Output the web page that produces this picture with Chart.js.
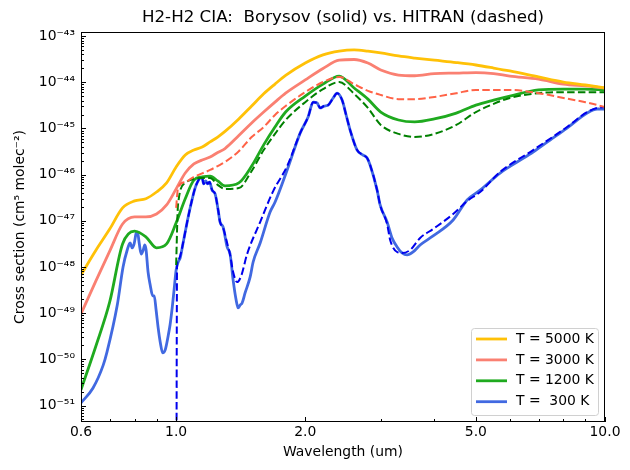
<!DOCTYPE html>
<html>
<head>
<meta charset="utf-8">
<script src="https://cdn.jsdelivr.net/npm/chart.js@4.4.0/dist/chart.umd.min.js"></script>
<style>
  body { margin: 0; background: #fff; }
  #wrap { width: 630px; height: 470px; }
</style>
</head>
<body>
<div id="wrap"><canvas id="myChart"></canvas></div>
<script>
//Elemento del DOM donde se renderiza la gráfica
const ctx = document.getElementById('myChart');

//Longitudes de onda (um) para las curvas de Borysov
const wlGrid = [0.6, 0.65, 0.7, 0.75, 0.8, 0.85, 0.9, 0.95, 1.0, 1.05, 1.1, 1.15, 1.2, 1.25, 1.3, 1.4, 1.5, 1.6, 1.7, 1.8,
  2.0, 2.2, 2.4, 2.6, 2.8, 3.0, 3.3, 3.6, 4.0, 4.5, 5.0, 5.5, 6.0, 7.0, 8.0, 9.0, 10.0];

const borysov5000 = [6.7e-49, 2.3e-48, 6.6e-48, 1.9e-47, 2.7e-47, 3.0e-47, 4.2e-47, 6.6e-47, 1.46e-46, 2.65e-46, 3.4e-46,
  3.95e-46, 5.1e-46, 6.5e-46, 8.6e-46, 1.6e-45, 3.05e-45, 5.6e-45, 9.1e-45, 1.4e-44, 2.6e-44, 3.9e-44, 4.7e-44, 5.0e-44,
  4.7e-44, 4.3e-44, 3.7e-44, 3.34e-44, 3.0e-44, 2.67e-44, 2.36e-44, 2.03e-44, 1.75e-44, 1.3e-44, 1.01e-44, 8.7e-45, 7.5e-45];

const borysov3000 = [9.6e-50, 5.0e-49, 2.2e-48, 8.5e-48, 1.21e-47, 1.21e-47, 1.4e-47, 2.2e-47, 4.9e-47, 1.08e-46, 1.7e-46,
  2.07e-46, 2.4e-46, 3.0e-46, 3.67e-46, 7.0e-46, 1.31e-45, 2.26e-45, 3.7e-45, 5.8e-45, 1.12e-44, 1.98e-44, 3.0e-44, 3.1e-44,
  2.6e-44, 1.84e-44, 1.43e-44, 1.38e-44, 1.54e-44, 1.58e-44, 1.62e-44, 1.54e-44, 1.36e-44, 1.17e-44, 9.1e-45, 8.3e-45, 7.5e-45];

const borysov1200 = [2.2e-51, 1.95e-50, 1.75e-49, 3.15e-48, 6.0e-48, 4.5e-48, 2.6e-48, 3.15e-48, 9.0e-48, 3.0e-47, 7.6e-47,
  8.9e-47, 9.3e-47, 7.3e-47, 5.7e-47, 6.6e-47, 1.53e-46, 4.4e-46, 1.07e-45, 2.26e-45, 5.0e-45, 9.1e-45, 1.36e-44, 7.5e-45,
  4.3e-45, 2.26e-45, 1.52e-45, 1.38e-45, 1.6e-45, 2.15e-45, 3.2e-45, 4.1e-45, 5.0e-45, 6.8e-45, 7.1e-45, 7.1e-45, 6.8e-45];

//Curva de 300 K (con más detalle)
const wlBlue = [0.6, 0.64, 0.676, 0.69, 0.729, 0.752, 0.769, 0.781, 0.79, 0.798, 0.807, 0.813, 0.82, 0.829, 0.838, 0.845,
  0.851, 0.86, 0.87, 0.882, 0.889, 0.898, 0.908, 0.918, 0.93, 0.943, 0.958, 0.968, 0.979, 0.989, 1.0, 1.011, 1.022, 1.038,
  1.061, 1.078, 1.107, 1.125, 1.137, 1.15, 1.159, 1.172, 1.184, 1.197, 1.213, 1.233, 1.253, 1.266, 1.287, 1.315, 1.336,
  1.358, 1.38, 1.395, 1.41, 1.425, 1.448, 1.488, 1.512, 1.57, 1.656, 1.701, 1.815, 1.946, 2.031, 2.087, 2.132, 2.166,
  2.214, 2.262, 2.323, 2.373, 2.438, 2.491, 2.545, 2.642, 2.729, 2.788, 2.833, 2.942, 2.99, 3.104, 3.188, 3.275, 3.364,
  3.456, 3.569, 3.706, 3.974, 4.425, 4.77, 5.115, 5.693, 6.238, 6.799, 7.447, 8.156, 9.085, 9.585, 10.0];

const borysov300 = [1.14e-51, 2.4e-51, 7.5e-51, 1.45e-50, 1.5e-49, 1.0e-48, 2.33e-48, 3.3e-48, 2.58e-48, 3.15e-48, 5.4e-48,
  5.7e-48, 3.3e-48, 1.91e-48, 2.33e-48, 2.99e-48, 2.33e-48, 7.8e-49, 4.07e-49, 2.36e-49, 2.36e-49, 1.17e-49, 4.8e-50,
  2.38e-50, 1.38e-50, 1.6e-50, 3.2e-50, 5.6e-50, 1.3e-49, 3.2e-49, 8.6e-49, 1.28e-48, 1.57e-48, 3.3e-48, 9.4e-48, 1.89e-47,
  5.1e-47, 7.3e-47, 8.4e-47, 8.4e-47, 6.3e-47, 7.3e-47, 6.3e-47, 6.9e-47, 4.6e-47, 3.8e-47, 1.71e-47, 9.4e-48, 7.3e-48,
  2.71e-48, 1.91e-48, 5.2e-49, 1.93e-49, 1.3e-49, 1.5e-49, 1.66e-49, 2.74e-49, 6.1e-49, 1.28e-48, 3.3e-48, 1.55e-47,
  2.55e-47, 1.26e-46, 7.9e-46, 1.77e-45, 3.7e-45, 3.55e-45, 2.77e-45, 3.05e-45, 3.2e-45, 4.55e-45, 5.8e-45, 4.1e-45,
  1.95e-45, 9.2e-46, 3.4e-46, 2.65e-46, 2.29e-46, 1.61e-46, 4.6e-47, 2.2e-47, 9.4e-48, 4.25e-48, 2.71e-48, 2.01e-48,
  1.82e-48, 2.11e-48, 2.99e-48, 4.7e-48, 1.04e-47, 2.82e-47, 4.6e-47, 1.08e-46, 1.87e-46, 3.08e-46, 5.6e-46, 1.02e-45,
  2.15e-45, 2.63e-45, 2.63e-45];

//HITRAN (discontinuas), empiezan en 1.0 um
const wlHitran = [1.0, 1.01, 1.05, 1.1, 1.15, 1.2, 1.25, 1.3, 1.4, 1.5, 1.6, 1.7, 1.8, 2.0, 2.2, 2.4, 2.6, 2.8, 3.0, 3.3,
  3.6, 4.0, 4.5, 5.0, 5.5, 6.0, 7.0, 8.0, 9.0, 10.0];

const hitran3000 = [1.9e-47, 5.1e-47, 6.9e-47, 8.9e-47, 1.06e-46, 1.26e-46, 1.53e-46, 1.87e-46, 3.2e-46, 6.5e-46, 1.07e-45,
  1.95e-45, 3.05e-45, 6.1e-45, 1.01e-44, 1.3e-44, 9.1e-45, 6.5e-45, 5.3e-45, 4.3e-45, 4.3e-45, 4.8e-45, 5.8e-45, 6.8e-45,
  6.8e-45, 6.8e-45, 5.8e-45, 4.55e-45, 3.7e-45, 2.9e-45];

const hitran1200 = [1.1e-48, 2.2e-47, 6.6e-47, 8.0e-47, 8.4e-47, 8.4e-47, 6.0e-47, 4.9e-47, 5.1e-47, 1.2e-46, 3.4e-46,
  7.6e-46, 1.52e-45, 3.7e-45, 7.1e-45, 1.01e-44, 5.6e-45, 2.77e-45, 1.19e-45, 7.6e-46, 6.5e-46, 7.6e-46, 1.19e-45, 2.26e-45,
  3.4e-45, 4.55e-45, 5.8e-45, 6.1e-45, 6.1e-45, 6.1e-45];

const wlHitran300 = [1.0, 1.005, 1.011, 1.022, 1.038, 1.061, 1.078, 1.107, 1.125, 1.137, 1.15, 1.159, 1.172, 1.184, 1.197,
  1.213, 1.233, 1.253, 1.266, 1.287, 1.315, 1.336, 1.358, 1.387, 1.418, 1.464, 1.57, 1.684, 1.815, 1.946, 2.031, 2.087,
  2.132, 2.166, 2.214, 2.262, 2.323, 2.373, 2.438, 2.491, 2.545, 2.642, 2.729, 2.788, 2.833, 2.942, 2.99, 3.104, 3.155,
  3.275, 3.364, 3.513, 3.706, 3.974, 4.425, 4.77, 5.115, 5.693, 6.799, 8.156, 9.085, 9.585, 10.0];

const hitran300 = [1e-56, 1.1e-48, 1.42e-48, 1.73e-48, 3.3e-48, 9.4e-48, 1.89e-47, 5.1e-47, 7.3e-47, 8.4e-47, 8.4e-47,
  6.3e-47, 7.3e-47, 6.3e-47, 6.9e-47, 4.6e-47, 3.8e-47, 1.71e-47, 9.4e-48, 7.0e-48, 3.3e-48, 1.82e-48, 7.8e-49, 4.7e-49,
  6.4e-49, 1.91e-48, 9.4e-48, 4.4e-47, 1.53e-46, 7.9e-46, 1.77e-45, 3.7e-45, 3.55e-45, 2.77e-45, 3.05e-45, 3.2e-45,
  4.55e-45, 5.8e-45, 4.1e-45, 1.95e-45, 9.2e-46, 3.4e-46, 2.65e-46, 2.29e-46, 1.61e-46, 4.6e-47, 2.2e-47, 8.5e-48,
  3.84e-48, 2.11e-48, 2.01e-48, 2.33e-48, 4.25e-48, 6.65e-48, 1.4e-47, 2.68e-47, 4.2e-47, 1.14e-46, 3.4e-46, 1.07e-45,
  2.26e-45, 2.77e-45, 2.9e-45];

//Etiquetas y ticks
const seriesLabels = ['T = 5000 K', 'T = 3000 K', 'T = 1200 K', 'T =  300 K'];
const xTicks = [0.6, 1.0, 2.0, 5.0, 10.0];
const xTickLabels = ['0.6', '1.0', '2.0', '5.0', '10.0'];
const xMinor = [0.7, 0.8, 0.9, 3, 4, 6, 7, 8, 9];
const yTicks = [1e-51, 1e-50, 1e-49, 1e-48, 1e-47, 1e-46, 1e-45, 1e-44, 1e-43];
const yTickLabels = ['10⁻⁵¹', '10⁻⁵⁰', '10⁻⁴⁹', '10⁻⁴⁸', '10⁻⁴⁷', '10⁻⁴⁶', '10⁻⁴⁵', '10⁻⁴⁴', '10⁻⁴³'];

const solidColors = ['#ffc107', '#fa8072', '#1faa1f', '#4169e1'];
const dashColors = ['#ff6347', '#008000', '#0000ee'];

const FONT = "'DejaVu Sans', sans-serif";
Chart.defaults.font.family = FONT;
Chart.defaults.color = '#000';

const pts = (xs, ys) => xs.map((x, i) => ({x: x, y: ys[i]}));

const solid = (label, xs, ys, color) => ({
  label: label, data: pts(xs, ys), borderColor: color, backgroundColor: color,
  borderWidth: 2.8, pointRadius: 0, fill: false, order: 1,
  cubicInterpolationMode: 'monotone'
});
const dashed = (xs, ys, color) => ({
  label: '', data: pts(xs, ys), borderColor: color, backgroundColor: color,
  borderWidth: 2, borderDash: [7.5, 3.3], pointRadius: 0, fill: false, order: 0,
  cubicInterpolationMode: 'monotone'
});

//Marco y ticks hacia dentro (estilo matplotlib)
const frameTicks = {
  id: 'frameTicks',
  afterDatasetsDraw(chart) {
    const {ctx, chartArea: a, scales: {x, y}} = chart;
    const line = (x1, y1, x2, y2) => { ctx.beginPath(); ctx.moveTo(x1, y1); ctx.lineTo(x2, y2); ctx.stroke(); };
    ctx.save();
    ctx.strokeStyle = '#000';
    ctx.lineWidth = 1;
    xTicks.forEach(v => { const p = Math.round(x.getPixelForValue(v)) + 0.5; line(p, a.bottom, p, a.bottom - 5); });
    xMinor.forEach(v => { const p = Math.round(x.getPixelForValue(v)) + 0.5; line(p, a.bottom, p, a.bottom - 3); });
    for (let e = -52; e <= -43; e++) {
      for (let k = 1; k <= 9; k++) {
        const v = k * Math.pow(10, e);
        const p = Math.round(y.getPixelForValue(v)) + 0.5;
        if (p < a.top || p > a.bottom) continue;
        line(a.left, p, a.left + (k === 1 ? 5 : 3), p);
      }
    }
    ctx.strokeRect(Math.round(a.left) + 0.5, Math.round(a.top) + 0.5,
      Math.round(a.right - a.left) - 1, Math.round(a.bottom - a.top) - 1);
    ctx.restore();
  },
  afterDraw(chart) {
    //Leyenda dentro del área, abajo a la derecha
    const {ctx, chartArea: a} = chart;
    const w = 127, h = 87;
    const x0 = a.right - 7 - w, y0 = a.bottom - 7 - h;
    ctx.save();
    ctx.beginPath();
    ctx.roundRect(x0 + 0.5, y0 + 0.5, w, h, 3);
    ctx.fillStyle = 'rgba(255,255,255,0.8)';
    ctx.fill();
    ctx.strokeStyle = '#d0d0d0';
    ctx.lineWidth = 1;
    ctx.stroke();
    ctx.font = '13.9px ' + FONT;
    ctx.textBaseline = 'middle';
    ctx.fillStyle = '#000';
    seriesLabels.forEach((t, i) => {
      const yy = y0 + 11 + i * 20.9;
      ctx.strokeStyle = solidColors[i];
      ctx.lineWidth = 2.8;
      ctx.beginPath(); ctx.moveTo(x0 + 5, yy); ctx.lineTo(x0 + 36, yy); ctx.stroke();
      ctx.fillText(t, x0 + 45, yy);
    });
    ctx.restore();
  }
};

new Chart(ctx, {
  type: 'line',
  data: {
    datasets: [
      solid(seriesLabels[0], wlGrid, borysov5000, solidColors[0]),
      solid(seriesLabels[1], wlGrid, borysov3000, solidColors[1]),
      solid(seriesLabels[2], wlGrid, borysov1200, solidColors[2]),
      solid(seriesLabels[3], wlBlue, borysov300, solidColors[3]),
      dashed(wlHitran, hitran3000, dashColors[0]),
      dashed(wlHitran, hitran1200, dashColors[1]),
      dashed(wlHitran300, hitran300, dashColors[2])
    ]
  },
  options: {
    responsive: true,
    maintainAspectRatio: false,
    animation: false,
    events: [],
    layout: { padding: { left: 0, right: 25, top: 0, bottom: 0 } },
    plugins: {
      legend: { display: false },
      tooltip: { enabled: false },
      title: {
        display: true,
        fullSize: false,
        text: 'H2-H2 CIA:  Borysov (solid) vs. HITRAN (dashed)',
        color: '#000',
        font: { size: 16.7, weight: 'normal' },
        padding: { top: 8, bottom: 4 }
      }
    },
    scales: {
      x: {
        type: 'logarithmic', min: 0.6, max: 10,
        afterBuildTicks: s => { s.ticks = xTicks.map(v => ({value: v})); },
        afterFit: s => { s.height = 48; },
        grid: { display: false, drawTicks: false },
        border: { display: false },
        ticks: { callback: (v, i) => xTickLabels[i], font: { size: 13.9 }, padding: 2, maxRotation: 0, autoSkip: false },
        title: { display: true, text: 'Wavelength (um)', font: { size: 13.9 }, padding: { top: 0, bottom: 9 } }
      },
      y: {
        type: 'logarithmic', min: 4.4e-52, max: 1.22e-43,
        afterBuildTicks: s => { s.ticks = yTicks.map(v => ({value: v})); },
        afterFit: s => { s.width = 81; },
        grid: { display: false, drawTicks: false },
        border: { display: false },
        ticks: { callback: (v, i) => yTickLabels[i], font: { size: 13.9 }, padding: 6, autoSkip: false },
        title: { display: true, text: 'Cross section (cm⁵ molec⁻²)', font: { size: 13.9 }, padding: { top: 12, bottom: 0 } }
      }
    }
  },
  plugins: [frameTicks]
});
</script>
</body>
</html>
